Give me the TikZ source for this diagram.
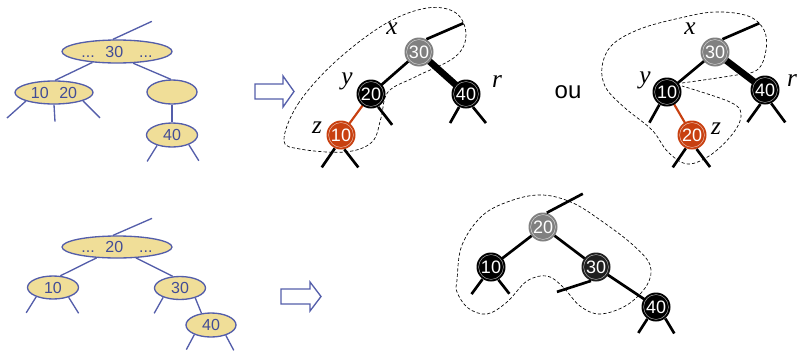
\documentclass[tikz,border=0pt]{standalone}
\usepackage{fontspec}
\setmainfont{Liberation Sans}
\newfontfamily\labserif{Liberation Serif}
\usetikzlibrary{shapes.geometric,backgrounds}
\definecolor{ellfill}{RGB}{240,222,152}
\definecolor{ellline}{RGB}{84,94,170}
\definecolor{elltext}{RGB}{66,76,150}
\definecolor{nodegray}{RGB}{128,128,128}
\definecolor{nodered}{RGB}{200,64,16}
\newcommand\ellnum{\fontsize{12}{14}\selectfont}
\newcommand\circnum{\fontsize{13.5}{15}\selectfont}
\begin{document}
\begin{tikzpicture}[x=0.75pt,y=-0.75pt,
  ell/.style={ellipse, draw=ellline, fill=ellfill, line width=1pt, inner sep=0pt, text=elltext, font=\ellnum},
  eline/.style={draw=ellline, line width=1pt},
  rb/.style={circle, minimum size=21.75pt, inner sep=0pt, text=white, font=\circnum,
    path picture={\draw[white, opacity=0.7, line width=0.35pt] (path picture bounding box.center) circle (9.3pt);}},
  blacknode/.style={rb, fill=black},
  darknode/.style={rb, fill=black!88},
  graynode/.style={rb, fill=nodegray},
  rednode/.style={rb, fill=nodered},
  tline/.style={draw=black, line width=2pt},
  thickline/.style={draw=black, line width=5pt},
  redline/.style={draw=nodered, line width=1.6pt},
  outline/.style={draw=black, dash pattern=on 2.4pt off 1.6pt, line width=0.5pt},
  lab/.style={inner sep=0pt, font=\labserif\itshape\fontsize{19}{19}\selectfont},
  hollow/.style={draw=ellline, fill=white, line width=1pt, line join=miter}
]
\useasboundingbox (0,0) rectangle (798,350);

% ---------- top-left 2-3-4 tree ----------
\node[ell, minimum width=82.5pt, minimum height=17.25pt] (R1) at (117,51.5) {...\hspace{8pt}30\hspace{12pt}...};
\node[ell, minimum width=58.5pt, minimum height=17.25pt] (A1) at (54,92.5) {10\hspace{8pt}20};
\node[ell, minimum width=37.5pt, minimum height=18pt] (B1) at (172,92) {};
\node[ell, minimum width=38.25pt, minimum height=18pt] (C1) at (172,135) {40};
\draw[eline] (R1.109) -- ++(39,-18) coordinate (R1t);
\draw[eline] (R1.204) -- (A1.85);
\draw[eline] (R1.-36) -- (B1.95);
\draw[eline] (A1.197) -- ++(-19,17) coordinate (A1a);
\draw[eline] (A1.south) -- ++(1,17) coordinate (A1b);
\draw[eline] (A1.-16) -- ++(17,17) coordinate (A1c);
\draw[eline] (B1.south) -- (C1.north);
\draw[eline] (C1.215) -- ++(-10,16) coordinate (C1a);
\draw[eline] (C1.-30) -- ++(10,16) coordinate (C1b);

% ---------- bottom-left 2-3-4 tree ----------
\node[ell, minimum width=82.5pt, minimum height=16.5pt] (R2) at (117,247) {...\hspace{8pt}20\hspace{12pt}...};
\node[ell, minimum width=38.25pt, minimum height=17.25pt] (A2) at (53,287.5) {10};
\node[ell, minimum width=38.25pt, minimum height=17.25pt] (B2) at (180,288) {30};
\node[ell, minimum width=37.5pt, minimum height=18pt] (C2) at (211,325) {40};
\draw[eline] (R2.109) -- ++(39,-17) coordinate (R2t);
\draw[eline] (R2.208) -- (A2.58);
\draw[eline] (R2.-30) -- (B2.122);
\draw[eline] (A2.209) -- ++(-10,16) coordinate (A2a);
\draw[eline] (A2.-32) -- ++(10,16) coordinate (A2b);
\draw[eline] (B2.209) -- ++(-9,16) coordinate (B2a);
\draw[eline] (B2.-33) -- (C2.129);
\draw[eline] (C2.210) -- ++(-8,15) coordinate (C2a);
\draw[eline] (C2.-35) -- ++(8,15) coordinate (C2b);

% ---------- arrows ----------
\draw[hollow] (255,84) -- (283,84) -- (283,76) -- (294,91.5) -- (283,107) -- (283,99) -- (255,99) -- cycle;
\draw[hollow] (281,289) -- (310,289) -- (310,282) -- (321,296.5) -- (310,311) -- (310,304) -- (281,304) -- cycle;

% ---------- top-middle red-black tree ----------
\node[graynode] (N30) at (419,52) {30};
\node[blacknode] (N20) at (371,94) {20};
\node[blacknode] (N40) at (466,94) {40};
\node[rednode] (N10) at (341,135) {10};
\begin{scope}[on background layer]
\draw[tline] (N30.center) -- (N20.center);
\draw[thickline] (N30.center) -- (N40.center);
\draw[redline] (N20.center) -- (N10.center);
\end{scope}
\draw[tline] (N30.60) -- ++(37,-16) coordinate (N30t);
\draw[tline] (N20.-61) -- ++(14,18) coordinate (N20r);
\draw[tline] (N40.-118) -- ++(-9,16) coordinate (N40a);
\draw[tline] (N40.-62) -- ++(13,16) coordinate (N40b);
\draw[tline] (N10.-115) -- ++(-13,19) coordinate (N10a);
\draw[tline] (N10.-77) -- ++(14,18) coordinate (N10b);
\node[lab] (lx1) at (392,29) {x};
\node[lab] (ly1) at (347,81) {y};
\node[lab] (lr1) at (497,82) {r};
\node[lab] (lz1) at (317,128) {z};
\draw[outline] plot[smooth cycle, tension=0.6] coordinates {
  (284,140) (298,104) (335,62) (385,24) (427,8) (456,13) (466,35) (455,57)
  (415,77) (388,92) (381,118) (372,142) (345,152) (300,149)};

% ---------- "ou" ----------
\node[font=\fontsize{18}{18}\selectfont, inner sep=0pt] (ou) at (568,92) {ou};

% ---------- top-right red-black tree ----------
\node[graynode] (M30) at (715,52) {30};
\node[blacknode] (M10) at (667,92) {10};
\node[blacknode] (M40) at (765,90) {40};
\node[rednode] (M20) at (692,135) {20};
\begin{scope}[on background layer]
\draw[tline] (M30.center) -- (M10.center);
\draw[thickline] (M30.center) -- (M40.center);
\draw[redline] (M10.center) -- (M20.center);
\end{scope}
\draw[tline] (M30.60) -- ++(37,-16) coordinate (M30t);
\draw[tline] (M10.-121) -- ++(-10,18) coordinate (M10a);
\draw[tline] (M40.-108) -- ++(-13,18) coordinate (M40a);
\draw[tline] (M40.-65) -- ++(14,19) coordinate (M40b);
\draw[tline] (M20.-115) -- ++(-13,19) coordinate (M20a);
\draw[tline] (M20.-72) -- ++(13.5,18) coordinate (M20b);
\node[lab] (lx2) at (690,29) {x};
\node[lab] (ly2) at (645,80) {y};
\node[lab] (lr2) at (792,81) {r};
\node[lab] (lz2) at (716,129) {z};
\draw[outline] plot[smooth, tension=0.6] coordinates {
  (682,83) (730,76) (757,70) (766,50) (764,30) (748,16) (715,12) (680,18)
  (640,29) (612,45) (602,67) (606,88) (625,108) (652,130) (668,152) (688,164)
  (712,154) (734,132) (741,114) (730,102) (682,86)};

% ---------- bottom-right red-black tree ----------
\node[graynode] (P20) at (543,227) {20};
\node[blacknode] (P10) at (491,267) {10};
\node[darknode] (P30) at (596,267) {30};
\node[blacknode] (P40) at (656,307) {40};
\begin{scope}[on background layer]
\draw[tline] (P20.center) -- (P10.center);
\draw[tline] (P20.center) -- (P30.center);
\draw[tline] (P30.center) -- (P40.center);
\end{scope}
\draw[tline] (P20.75) -- ++(36,-19) coordinate (P20t);
\draw[tline] (P10.-125) -- ++(-11,15) coordinate (P10a);
\draw[tline] (P10.-60) -- ++(11,14) coordinate (P10b);
\draw[tline] (P30.-110) -- ++(-34,11) coordinate (P30a);
\draw[tline] (P40.-126) -- ++(-9,14) coordinate (P40a);
\draw[tline] (P40.-51) -- ++(9,15) coordinate (P40b);
\draw[outline] plot[smooth cycle, tension=0.6] coordinates {
  (457,280) (462,245) (483,215) (513,200) (543,195) (573,203) (603,222)
  (633,245) (650,265) (647,285) (627,305) (600,314) (580,306) (563,287)
  (547,276) (527,281) (507,302) (487,314) (468,308) (457,292)};
\end{tikzpicture}
\end{document}
